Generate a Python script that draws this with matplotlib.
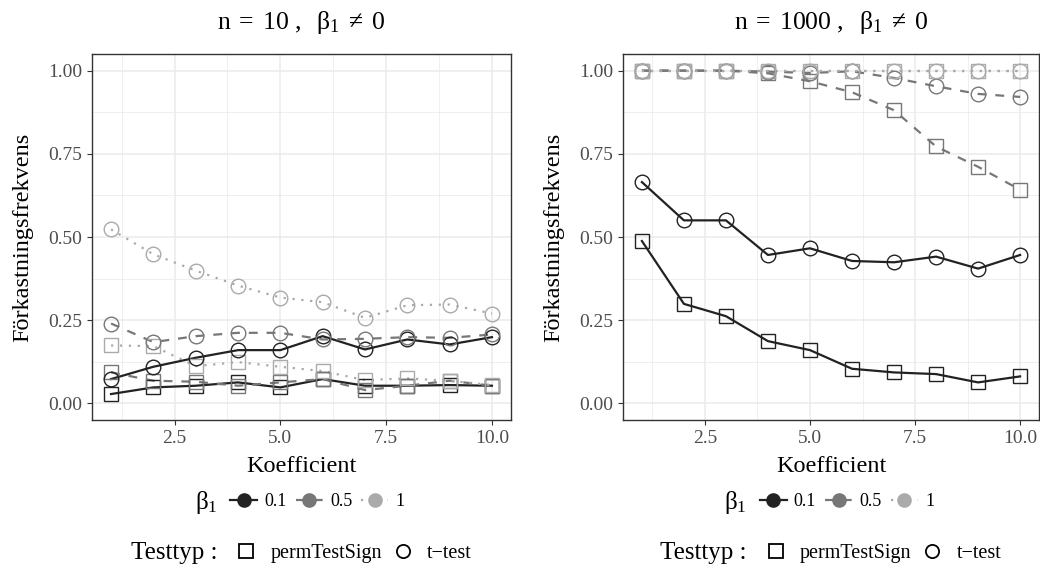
import matplotlib
matplotlib.use("Agg")
import matplotlib.pyplot as plt
from matplotlib.lines import Line2D
from matplotlib.ticker import MultipleLocator

plt.rcParams["font.family"] = ["Liberation Serif", "DejaVu Serif"]
plt.rcParams["mathtext.fontset"] = "custom"
plt.rcParams["mathtext.rm"] = "Liberation Serif"
plt.rcParams["mathtext.it"] = "Liberation Serif:italic"
plt.rcParams["mathtext.bf"] = "Liberation Serif:bold"

# -----------------------------------------------------------------------------
# Data
# -----------------------------------------------------------------------------
koef = [1, 2, 3, 4, 5, 6, 7, 8, 9, 10]
betas = ["0.1", "0.5", "1"]
tests = ["permTestSign", "t\u2212test"]

# n = 10
n10_perm_01 = [0.028, 0.048, 0.053, 0.063, 0.048, 0.073, 0.053, 0.053, 0.055, 0.053]
n10_perm_05 = [0.093, 0.068, 0.065, 0.053, 0.063, 0.073, 0.040, 0.053, 0.068, 0.053]
n10_perm_1 = [0.174, 0.172, 0.112, 0.124, 0.110, 0.097, 0.070, 0.075, 0.068, 0.055]
n10_t_01 = [0.073, 0.110, 0.137, 0.160, 0.160, 0.202, 0.162, 0.192, 0.177, 0.199]
n10_t_05 = [0.240, 0.184, 0.202, 0.212, 0.212, 0.192, 0.194, 0.199, 0.197, 0.207]
n10_t_1 = [0.523, 0.448, 0.399, 0.354, 0.318, 0.304, 0.257, 0.295, 0.297, 0.270]

# n = 1000
n1000_perm_01 = [0.488, 0.299, 0.262, 0.187, 0.160, 0.104, 0.093, 0.088, 0.063, 0.081]
n1000_perm_05 = [1.000, 1.000, 1.000, 0.992, 0.968, 0.935, 0.881, 0.772, 0.711, 0.642]
n1000_perm_1 = [1.000, 1.000, 1.000, 1.000, 1.000, 1.000, 1.000, 1.000, 1.000, 1.000]
n1000_t_01 = [0.665, 0.550, 0.550, 0.446, 0.466, 0.428, 0.424, 0.441, 0.405, 0.446]
n1000_t_05 = [1.000, 1.000, 1.000, 0.997, 0.993, 0.998, 0.978, 0.953, 0.930, 0.921]
n1000_t_1 = [1.000, 1.000, 1.000, 1.000, 1.000, 1.000, 1.000, 1.000, 1.000, 1.000]

panels = [
    ("10", {"permTestSign": [n10_perm_01, n10_perm_05, n10_perm_1],
            "t\u2212test": [n10_t_01, n10_t_05, n10_t_1]}),
    ("1000", {"permTestSign": [n1000_perm_01, n1000_perm_05, n1000_perm_1],
              "t\u2212test": [n1000_t_01, n1000_t_05, n1000_t_1]}),
]

# -----------------------------------------------------------------------------
# Styling
# -----------------------------------------------------------------------------
COLORS = {"0.1": "#222222", "0.5": "#777777", "1": "#aaaaaa"}
LINESTYLES = {"0.1": "-", "0.5": (0, (4, 4)), "1": (0, (1, 3))}
MARKERS = {"permTestSign": "s", "t\u2212test": "o"}

W, H = 1040, 567
fig = plt.figure(figsize=(W / 100, H / 100), dpi=100)


def fx(px):
    return px / W


def fy(py):
    return 1 - py / H


axes_px = [(92, 54, 511, 420), (623, 54, 1039, 420)]

for (nval, series), (x0, y0, x1, y1) in zip(panels, axes_px):
    ax = fig.add_axes([fx(x0), fy(y1), fx(x1 - x0), (y1 - y0) / H])
    # lines first, then points (as ggplot layers)
    for test in tests:
        for b, vals in zip(betas, series[test]):
            ax.plot(koef, vals, color=COLORS[b], linestyle=LINESTYLES[b],
                    linewidth=1.6, zorder=2)
    for test in tests:
        for b, vals in zip(betas, series[test]):
            ax.plot(koef, vals, linestyle="none", marker=MARKERS[test],
                    markersize=10.5, markerfacecolor="none",
                    markeredgecolor=COLORS[b], markeredgewidth=1.0, zorder=3)

    ax.set_xlim(0.55, 10.45)
    ax.set_ylim(-0.05, 1.05)
    ax.xaxis.set_major_locator(MultipleLocator(2.5))
    ax.xaxis.set_minor_locator(MultipleLocator(1.25))
    ax.yaxis.set_major_locator(MultipleLocator(0.25))
    ax.yaxis.set_minor_locator(MultipleLocator(0.125))
    ax.xaxis.set_major_formatter(lambda v, p: f"{v:.1f}")
    ax.yaxis.set_major_formatter(lambda v, p: f"{v:.2f}")
    ax.grid(which="major", color="#ebebeb", linewidth=1.1, zorder=0)
    ax.grid(which="minor", color="#ebebeb", linewidth=0.55, zorder=0)
    ax.set_axisbelow(True)
    ax.tick_params(which="major", length=3.5, width=0.8, color="#333333",
                   labelcolor="#4d4d4d", labelsize=14)
    ax.tick_params(axis="y", pad=3.5)
    ax.tick_params(axis="x", pad=3.5)
    ax.tick_params(which="minor", length=0)
    for sp in ax.spines.values():
        sp.set_color("#333333")
        sp.set_linewidth(1.0)

    cx = (x0 + x1) / 2
    fig.text(fx(cx), fy(22), rf"$\mathrm{{n\;=\;{nval}\ ,\ \ \beta_1\;\neq\;0}}$",
             ha="center", va="center", fontsize=18.5)
    fig.text(fx(cx), fy(467), "Koefficient", ha="center", va="center", fontsize=17.5)
    fig.text(fx(x0 - 69), fy((y0 + y1) / 2), "Förkastningsfrekvens", rotation=90,
             ha="center", va="center", fontsize=17.5)

    # beta legend
    off = cx - 301.5
    fig.text(fx(206 + off), fy(503), r"$\mathrm{\beta_1}$", ha="center", va="center",
             fontsize=18)
    h1 = [Line2D([0], [0], color=COLORS[b], linestyle=LINESTYLES[b], linewidth=1.6,
                 marker="o", markersize=9.5) for b in betas]
    fig.legend(h1, betas, loc="center left", bbox_to_anchor=(fx(230 + off), fy(502)),
               ncol=3, frameon=False, fontsize=13, borderpad=0, borderaxespad=0,
               handlelength=1.5, handletextpad=0.4, columnspacing=0.5)

    # test type legend
    fig.text(fx(174 + off), fy(553), "Testtyp :", ha="center", va="center", fontsize=18)
    h2 = [Line2D([0], [0], color="black", linestyle="none", marker=MARKERS[t],
                 markersize=9.5, markerfacecolor="none", markeredgewidth=1.3)
          for t in tests]
    fig.legend(h2, tests, loc="center left", bbox_to_anchor=(fx(236 + off), fy(553)),
               ncol=2, frameon=False, fontsize=14.5, borderpad=0, borderaxespad=0,
               handlelength=1.0, handletextpad=0.7, columnspacing=0.55)

fig.savefig("out.png", dpi=100)
